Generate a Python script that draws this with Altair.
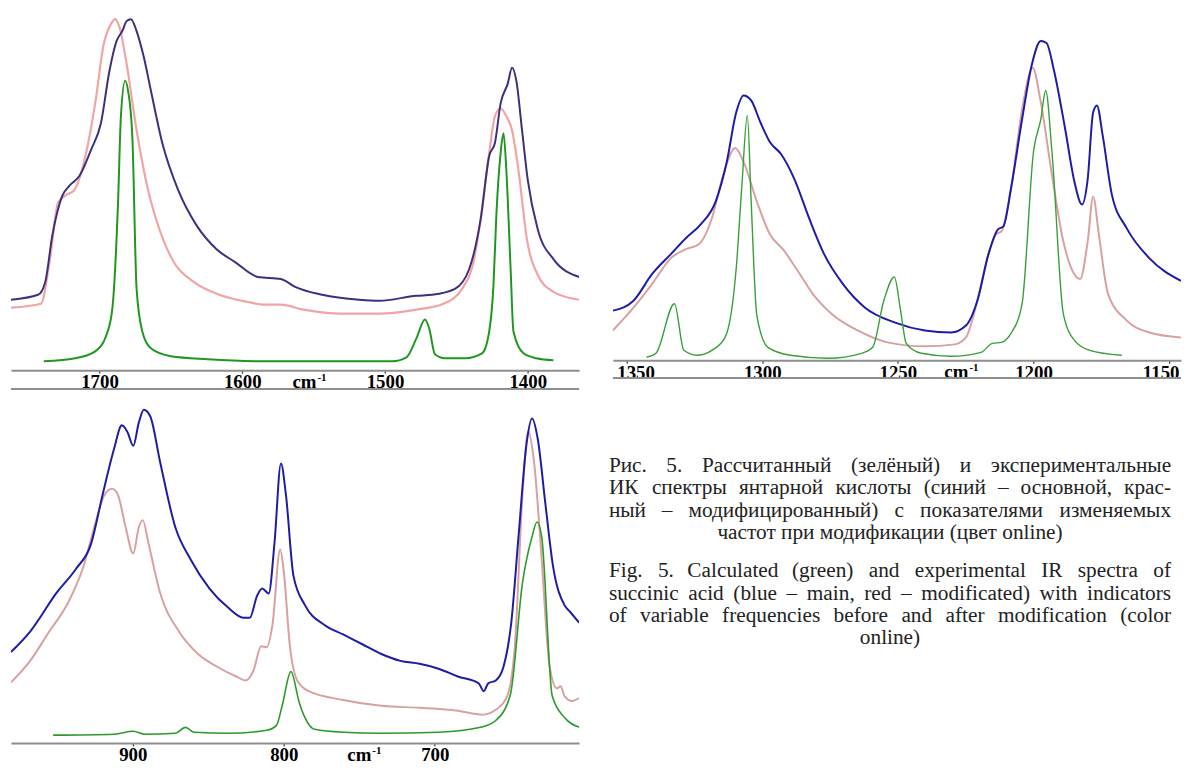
import altair as alt
import pandas as pd

# ---------------- Panel 1 (1762 - 1364 cm-1) ----------------
p1_blue_x = [1762, 1743, 1738, 1733, 1726, 1721, 1714, 1706, 1699, 1693, 1688, 1684, 1681, 1678, 1674, 1669, 1664, 1656, 1645, 1632, 1618, 1605, 1589, 1573, 1563, 1544, 1518, 1504, 1478, 1467, 1451, 1441, 1433, 1427, 1423, 1419, 1414, 1411, 1408, 1404, 1400, 1393, 1382, 1364]
p1_blue_y = [71, 76, 89, 136, 176, 186, 196, 222, 249, 302, 332, 342, 352, 354, 342, 316, 282, 229, 182, 146, 122, 109, 94, 92, 84, 76, 71, 70, 75, 76, 82, 102, 152, 216, 229, 269, 289, 305, 292, 242, 192, 142, 112, 94]
p1_red_x = [1762, 1741, 1735, 1729, 1723, 1718, 1711, 1703, 1697, 1692, 1689, 1686, 1681, 1674, 1666, 1658, 1648, 1634, 1616, 1597, 1584, 1573, 1557, 1531, 1504, 1478, 1459, 1446, 1438, 1433, 1427, 1423, 1419, 1415, 1411, 1406, 1401, 1393, 1382, 1364]
p1_red_y = [63, 67, 109, 169, 177, 181, 209, 269, 329, 349, 354, 346, 309, 242, 182, 142, 109, 89, 76, 69, 66, 66, 61, 57, 57, 61, 67, 82, 109, 152, 219, 256, 264, 256, 242, 196, 136, 96, 79, 71]
p1_green_x = [1739, 1717, 1703, 1695, 1691, 1687, 1685, 1682, 1680, 1677, 1674, 1670, 1664, 1650, 1624, 1584, 1495, 1485, 1478, 1472, 1469, 1465, 1458, 1444, 1432, 1427, 1424, 1422, 1419, 1417, 1415, 1412, 1410, 1403, 1394, 1382]
p1_green_y = [9, 12, 19, 36, 62, 169, 256, 292, 282, 236, 82, 39, 22, 14, 11, 9, 9, 13, 32, 51, 42, 16, 12, 12, 17, 39, 86, 156, 219, 239, 202, 102, 39, 17, 12, 10]
p1_ticks = [1700, 1600, 1500, 1400]

# ---------------- Panel 2 (1355 - 1145 cm-1) ----------------
p2_blue_x = [1355.1, 1347.5, 1340.6, 1333.7, 1328.2, 1322.7, 1317.2, 1313.1, 1309.6, 1306.9, 1304.1, 1300.7, 1297.2, 1293.1, 1288.2, 1282.7, 1277.2, 1270.3, 1262.1, 1251.0, 1240.0, 1230.4, 1224.9, 1220.7, 1216.6, 1213.1, 1211.1, 1208.3, 1204.2, 1200.7, 1197.3, 1195.2, 1192.5, 1188.3, 1184.9, 1182.1, 1180.0, 1178.0, 1176.6, 1174.5, 1171.1, 1165.6, 1157.3, 1145.6]
p2_blue_y = [50, 60, 87, 107, 123, 137, 160, 200, 250, 267, 262, 240, 220, 208, 183, 143, 107, 77, 53, 38, 30, 28, 35, 60, 107, 132, 135, 173, 243, 297, 322, 320, 293, 233, 180, 157, 183, 250, 257, 227, 167, 133, 103, 80]
p2_red_x = [1355.1, 1347.5, 1340.6, 1333.7, 1328.2, 1323.4, 1318.6, 1314.4, 1310.0, 1306.9, 1302.0, 1297.2, 1292.4, 1286.9, 1281.4, 1274.5, 1264.8, 1253.8, 1240.0, 1229.0, 1224.9, 1220.7, 1216.6, 1213.8, 1211.8, 1208.3, 1204.2, 1200.3, 1197.3, 1193.2, 1189.0, 1185.6, 1182.8, 1180.0, 1178.0, 1175.9, 1172.5, 1165.6, 1157.3, 1145.6]
p2_red_y = [30, 53, 77, 103, 112, 117, 143, 187, 214, 200, 160, 127, 112, 90, 67, 47, 30, 18, 14, 16, 23, 60, 107, 127, 130, 173, 253, 295, 260, 187, 120, 90, 82, 120, 165, 127, 67, 40, 28, 23]
p2_green_x = [1342.7, 1339.2, 1332.4, 1328.9, 1324.1, 1318.6, 1313.7, 1309.6, 1307.5, 1305.5, 1304.1, 1302.0, 1297.9, 1289.6, 1275.8, 1263.4, 1259.3, 1255.2, 1251.3, 1249.0, 1246.9, 1241.4, 1230.4, 1219.3, 1215.2, 1211.8, 1208.3, 1204.2, 1200.0, 1197.3, 1195.5, 1193.1, 1189.0, 1184.9, 1179.3, 1167.4]
p2_green_y = [3, 7, 57, 10, 5, 10, 23, 93, 177, 247, 160, 45, 13, 5, 2, 7, 13, 60, 84, 50, 17, 7, 4, 8, 17, 18, 27, 57, 210, 243, 272, 207, 47, 20, 10, 5]
p2_ticks = [1350, 1300, 1250, 1200, 1150]

# ---------------- Panel 3 (981 - 604 cm-1) ----------------
p3_blue_x = [980.7, 968.0, 950.3, 937.7, 927.6, 920.0, 912.4, 907.3, 903.5, 899.7, 896.0, 892.7, 888.4, 882.0, 871.9, 861.8, 849.2, 836.5, 826.4, 822.6, 817.6, 814.3, 810.0, 806.2, 801.9, 798.6, 793.6, 786.0, 773.3, 760.7, 748.0, 735.4, 722.8, 710.1, 697.5, 684.8, 670.9, 667.6, 664.6, 659.6, 654.5, 649.5, 644.4, 639.4, 635.6, 631.8, 626.7, 621.7, 614.1, 610.3, 604.4]
p3_blue_y = [93, 114, 154, 178, 204, 254, 301, 325, 318, 304, 328, 341, 334, 288, 221, 188, 158, 138, 128, 128, 151, 158, 153, 204, 286, 254, 171, 141, 121, 111, 101, 91, 84, 81, 76, 68, 61, 53, 61, 64, 78, 121, 214, 304, 332, 311, 244, 181, 141, 134, 123]
p3_red_x = [980.7, 968.0, 955.4, 942.7, 932.6, 925.0, 918.7, 913.7, 909.9, 904.8, 899.7, 896.0, 893.4, 889.6, 882.0, 869.4, 856.8, 844.1, 831.5, 825.2, 820.1, 815.0, 811.3, 807.5, 802.4, 799.9, 796.1, 791.1, 783.5, 760.7, 735.4, 710.1, 684.8, 668.4, 659.6, 652.0, 646.9, 641.9, 638.1, 634.3, 629.2, 624.2, 619.1, 616.6, 614.1, 609.0, 604.4]
p3_red_y = [62, 84, 114, 144, 181, 224, 254, 260, 254, 221, 194, 221, 228, 204, 154, 114, 91, 78, 68, 64, 74, 99, 98, 121, 198, 174, 101, 64, 53, 44, 38, 36, 33, 29, 34, 48, 101, 254, 319, 288, 188, 81, 56, 58, 48, 43, 46]
p3_green_x = [952.8, 912.4, 899.7, 891.9, 871.9, 865.1, 859.3, 836.5, 811.3, 804.9, 801.1, 795.3, 789.7, 786.0, 779.6, 760.7, 735.4, 697.5, 669.6, 659.6, 650.0, 641.9, 635.6, 632.3, 629.2, 622.2, 614.1, 604.0]
p3_green_y = [8, 9, 12, 9, 10, 16, 11, 10, 13, 18, 38, 73, 41, 26, 14, 11, 10, 11, 16, 23, 49, 164, 211, 226, 211, 48, 26, 16]
p3_ticks = [900, 800, 700]

# ---------------- Caption ----------------
caption_ru = [
    "Рис. 5. Рассчитанный (зелёный) и экспериментальные",
    "ИК спектры янтарной кислоты (синий – основной, крас-",
    "ный – модифицированный) с показателями изменяемых",
    "частот при модификации (цвет online)",
]
caption_en = [
    "Fig. 5. Calculated (green) and experimental IR spectra of",
    "succinic acid (blue – main, red – modificated) with indicators",
    "of variable frequencies before and after modification (color",
    "online)",
]

SERIF = "Liberation Serif"
GRAY = "#8e8e8e"

# approximate Times-like glyph widths (per 1000 em) used only to justify text
_W = {
    " ": 250, ".": 250, ",": 250, "(": 333, ")": 333, "-": 333, "–": 500,
    "a": 444, "b": 500, "c": 444, "d": 500, "e": 444, "f": 333, "g": 500,
    "h": 500, "i": 278, "j": 278, "k": 500, "l": 278, "m": 778, "n": 500,
    "o": 500, "p": 500, "q": 500, "r": 333, "s": 389, "t": 278, "u": 500,
    "v": 500, "w": 722, "x": 500, "y": 500, "z": 444,
    "F": 556, "I": 333, "R": 667, "5": 500,
    "а": 444, "б": 500, "в": 472, "г": 410, "д": 509, "е": 444, "ё": 444,
    "ж": 691, "з": 395, "и": 535, "й": 535, "к": 486, "л": 499, "м": 633,
    "н": 535, "о": 500, "п": 535, "р": 500, "с": 444, "т": 437, "у": 500,
    "ф": 648, "х": 500, "ц": 535, "ч": 503, "ш": 770, "щ": 770, "ъ": 517,
    "ы": 672, "ь": 456, "э": 429, "ю": 747, "я": 460,
    "Р": 556, "И": 722, "К": 722,
}


def text_w(s, size):
    return sum(_W.get(ch, 500) for ch in s) * size / 1000.0


def make_df(xs, ys):
    return pd.DataFrame({"cm": xs, "v": ys})


def panel(series, domain, height, ymax, ticks, cm_pos, second_rule, width=573):
    xscale = alt.Scale(domain=domain, nice=False, zero=False)
    yscale = alt.Scale(domain=[0, ymax], nice=False, zero=False)
    axis = alt.Axis(
        values=ticks, format="d", title=None, grid=False,
        labelFont=SERIF, labelFontWeight="bold", labelFontSize=19,
        labelColor="black", labelPadding=0, labelFlush=20,
        labelFlushOffset=10, labelOverlap=False,
        domainColor=GRAY, domainWidth=2, tickColor="#333",
        tickWidth=1.2, tickSize=3,
    )
    layers = []
    for xs, ys, color, sw in series:
        layers.append(
            alt.Chart(make_df(xs, ys)).mark_line(
                color=color, strokeWidth=sw, clip=True, interpolate="monotone"
            ).encode(
                x=alt.X("cm:Q", scale=xscale, axis=axis),
                y=alt.Y("v:Q", scale=yscale, axis=None),
            )
        )
    one = pd.DataFrame({"a": [0]})
    layers.append(
        alt.Chart(one).mark_text(
            text="cm", font=SERIF, fontWeight="bold", fontSize=19,
            align="right", baseline="top", color="black",
        ).encode(x=alt.datum(cm_pos, scale=xscale, axis=axis), y=alt.value(height + 3))
    )
    layers.append(
        alt.Chart(one).mark_text(
            text="-1", font=SERIF, fontWeight="bold", fontSize=11,
            align="left", baseline="top", color="black", dx=1,
        ).encode(x=alt.datum(cm_pos, scale=xscale, axis=axis), y=alt.value(height + 2))
    )
    if second_rule:
        layers.append(
            alt.Chart(one).mark_rule(color=GRAY, strokeWidth=2, clip=False).encode(
                x=alt.value(0), x2=alt.value(width),
                y=alt.value(height + second_rule),
            )
        )
    return alt.layer(*layers).properties(width=width, height=height)


p1 = panel(
    [
        (p1_red_x, p1_red_y, "#f2a3a3", 2.2),
        (p1_blue_x, p1_blue_y, "#3d2f80", 2.0),
        (p1_green_x, p1_green_y, "#1f961f", 2.0),
    ],
    [1762, 1364], 362, 362, p1_ticks, 1548, 19,
)
p2 = panel(
    [
        (p2_red_x, p2_red_y, "#d9a0a0", 2.0),
        (p2_blue_x, p2_blue_y, "#1c1ca8", 2.0),
        (p2_green_x, p2_green_y, "#35a035", 1.4),
    ],
    [1355.1, 1145.6], 352, 352, p2_ticks, 1224, 18,
)
p3 = panel(
    [
        (p3_red_x, p3_red_y, "#d9a0a0", 2.0),
        (p3_blue_x, p3_blue_y, "#1c1ca8", 2.0),
        (p3_green_x, p3_green_y, "#2a9a2a", 1.6),
    ],
    [980.7, 604.4], 346, 351, p3_ticks, 742, 0,
)

# caption panel (justified lines, last line of each paragraph centred)
one = pd.DataFrame({"a": [0]})
cap_layers = []
FS = 21.5
LINE_H = 22.4
LEFT, RIGHT = -4, 563


def word_layer(word, x, align, y):
    return alt.Chart(one).mark_text(
        text=word, font=SERIF, fontSize=FS, color="#222",
        align=align, baseline="middle",
    ).encode(x=alt.value(x), y=alt.value(y))


for block, y0 in ((caption_ru, 67), (caption_en, 173)):
    for i, line in enumerate(block):
        y = y0 + i * LINE_H
        if i == len(block) - 1:
            cap_layers.append(word_layer(line, (LEFT + RIGHT) / 2, "center", y))
            continue
        words = line.split(" ")
        widths = [text_w(w, FS) for w in words]
        gap = (RIGHT - LEFT - sum(widths)) / (len(words) - 1)
        pos = LEFT
        for k, (w, ww) in enumerate(zip(words, widths)):
            if k == 0:
                cap_layers.append(word_layer(w, LEFT, "left", y))
            elif k == len(words) - 1:
                cap_layers.append(word_layer(w, RIGHT, "right", y))
            else:
                cap_layers.append(word_layer(w, pos + ww / 2, "center", y))
            pos += ww + gap
caption = alt.layer(*cap_layers).properties(width=573, height=346)

chart = alt.concat(
    p1, p2, p3, caption, columns=2,
    spacing={"row": 30, "column": 34}, bounds="flush",
).properties(
    padding={"left": 2, "top": 0, "right": 0, "bottom": 0}
).configure(background="white").configure_view(stroke=None)

chart.save("out.html", embed_options={"renderer": "svg", "actions": False})
